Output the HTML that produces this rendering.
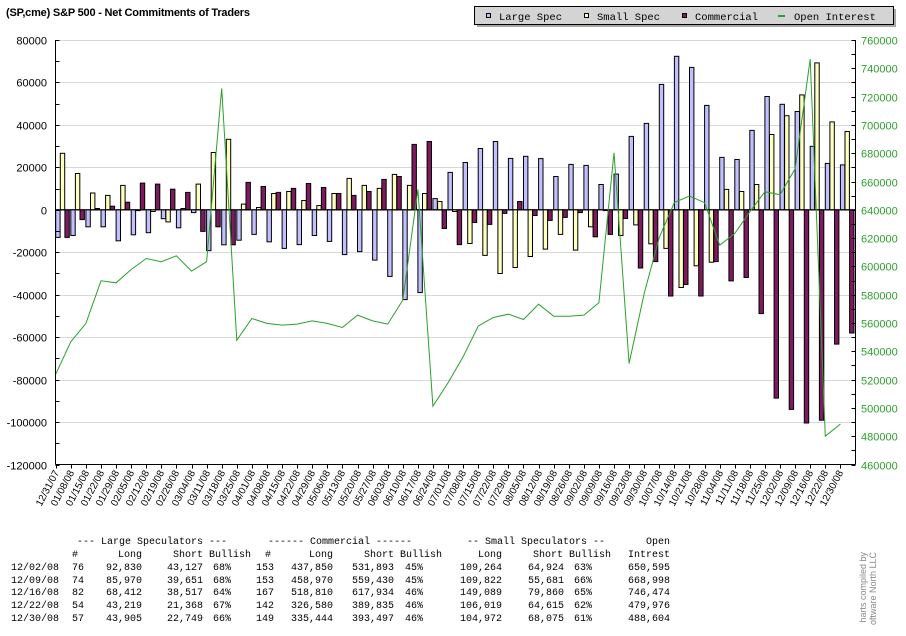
<!DOCTYPE html>
<html>
<head>
<meta charset="utf-8">
<style>
  html,body{margin:0;padding:0;background:#fff;}
  #wrap{position:relative;width:906px;height:636px;overflow:hidden;background:#fff;font-family:"Liberation Sans",sans-serif;}
  .tbl{position:absolute;font-family:"Liberation Mono",monospace;font-size:10px;line-height:12px;color:#000;white-space:pre;}
  .r{text-align:right;}
</style>
</head>
<body>
<div id="wrap">
<svg id="chart" width="906" height="520" style="position:absolute;left:0;top:0">
  <text x="6" y="16" font-family="Liberation Sans, sans-serif" font-weight="bold" font-size="11" textLength="244">(SP,cme) S&amp;P 500 - Net Commitments of Traders</text>
  <g>
    <rect x="477" y="9" width="419" height="18" fill="#a8a8a8"/>
    <rect x="474.5" y="6.5" width="419" height="18" fill="#d4d4d4" stroke="#000" stroke-width="1"/>
    <g>
      <rect x="486.5" y="13.5" width="4" height="4" fill="#c0c0ff" stroke="#000"/>
      <text x="499" y="20" font-family="Liberation Mono, monospace" font-size="10.5">Large Spec</text>
    </g>
    <g>
      <rect x="584.5" y="13.5" width="4" height="4" fill="#ffffc0" stroke="#000"/>
      <text x="597" y="20" font-family="Liberation Mono, monospace" font-size="10.5">Small Spec</text>
    </g>
    <g>
      <rect x="682.5" y="13.5" width="4" height="4" fill="#801a60" stroke="#000"/>
      <text x="695" y="20" font-family="Liberation Mono, monospace" font-size="10.5">Commercial</text>
    </g>
    <g>
      <rect x="778" y="15" width="7" height="2" fill="#2ca02c"/>
      <text x="794" y="20" font-family="Liberation Mono, monospace" font-size="10.5">Open Interest</text>
    </g>
  </g>
  <g id="grid"></g>
  <g id="bars"></g>
  <g id="oi"></g>
  <g id="axes"></g>
</svg>

<div>
<div class="tbl" style="left:77px;top:537px">--- Large Speculators ---</div>
<div class="tbl" style="left:268px;top:537px">------ Commercial ------</div>
<div class="tbl" style="left:467px;top:537px">-- Small Speculators --</div>
<div class="tbl" style="left:610px;top:537px;width:60px;text-align:right">Open</div>
<div class="tbl" style="left:72px;top:550px">#</div>
<div class="tbl r" style="left:100px;top:550px;width:42px">Long</div>
<div class="tbl" style="left:173px;top:550px">Short Bullish</div>
<div class="tbl" style="left:265px;top:550px">#</div>
<div class="tbl r" style="left:290px;top:550px;width:43px">Long</div>
<div class="tbl" style="left:364px;top:550px">Short Bullish</div>
<div class="tbl r" style="left:460px;top:550px;width:42px">Long</div>
<div class="tbl" style="left:533px;top:550px">Short Bullish</div>
<div class="tbl r" style="left:610px;top:550px;width:60px">Intrest</div>
</div>
<div id="rows"></div>
<div style="position:absolute;left:856px;top:552px;width:24px;height:75px;overflow:hidden">
  <div style="position:absolute;left:-28px;top:30px;width:80px;transform:rotate(-90deg);font-family:'Liberation Sans',sans-serif;font-size:9px;line-height:10px;color:#8a8a8a;white-space:nowrap;text-align:right;">harts compiled by<br>oftware North LLC</div>
</div>
</div>

<script>
const dates = ["12/31/07","01/08/08","01/15/08","01/22/08","01/29/08","02/05/08","02/12/08","02/19/08","02/26/08","03/04/08","03/11/08","03/18/08","03/25/08","04/01/08","04/08/08","04/15/08","04/22/08","04/29/08","05/06/08","05/13/08","05/20/08","05/27/08","06/03/08","06/10/08","06/17/08","06/24/08","07/01/08","07/08/08","07/15/08","07/22/08","07/29/08","08/05/08","08/12/08","08/19/08","08/26/08","09/02/08","09/09/08","09/16/08","09/23/08","09/30/08","10/07/08","10/14/08","10/21/08","10/28/08","11/04/08","11/11/08","11/18/08","11/25/08","12/02/08","12/09/08","12/16/08","12/22/08","12/30/08"];
const largeSpec = [-13000,-12100,-8000,-8000,-14600,-11800,-10800,-4200,-8500,-1300,-19200,-16500,-14300,-11600,-15100,-18200,-16400,-12100,-14900,-21100,-19700,-23700,-31400,-42300,-39000,5300,17600,22300,28900,32200,24200,25200,24100,15700,21400,20900,11900,16800,34600,40700,59100,72300,67100,49200,24700,23700,37400,53400,49703,46319,29895,21851,21156];
const smallSpec = [26600,17100,7900,6800,11500,-200,-800,-5700,600,12100,27000,33200,2700,1100,7700,8600,4400,2000,7700,14800,11500,10100,16700,11500,7700,3900,-800,-15900,-21500,-30000,-27200,-22000,-18500,-11600,-19000,-8000,-300,-12100,-7100,-16000,-18200,-36600,-26400,-24700,9600,8600,11900,35500,44340,54141,69229,41404,36897];
const commercial = [-13000,-4600,600,1700,3600,12600,12100,9700,8200,-10200,-8000,-16500,12900,11000,8200,10100,12400,10500,7700,6800,8600,14300,15700,30800,32200,-8800,-16400,-6000,-6900,-1700,3900,-2700,-5000,-3600,-1300,-12700,-11600,-4100,-27400,-24400,-40600,-35200,-40600,-24400,-33500,-31900,-48900,-88700,-94043,-100460,-99124,-63255,-58053];
const openInterest = [523800,546700,559700,589800,588400,597800,605600,603300,607500,596700,603300,725800,547900,563200,559700,558500,559200,561500,559700,556800,565600,561500,559200,576200,654400,501200,517700,536100,557800,563900,566200,562500,573300,564800,564800,565600,574300,680300,531400,580900,620500,645200,649700,645000,615000,623300,638600,652800,650595,668998,746474,479976,488604];
const leftTicks = [80000,60000,40000,20000,0,-20000,-40000,-60000,-80000,-100000,-120000];
const rightTicks = [760000,740000,720000,700000,680000,660000,640000,620000,600000,580000,560000,540000,520000,500000,480000,460000];

const tableDates = ["12/02/08","12/09/08","12/16/08","12/22/08","12/30/08"];
const lsCount = ["76","74","82","54","57"];
const lsLong = ["92,830","85,970","68,412","43,219","43,905"];
const lsShort = ["43,127","39,651","38,517","21,368","22,749"];
const lsBull = ["68%","68%","64%","67%","66%"];
const cmCount = ["153","153","167","142","149"];
const cmLong = ["437,850","458,970","518,810","326,580","335,444"];
const cmShort = ["531,893","559,430","617,934","389,835","393,497"];
const cmBull = ["45%","45%","46%","46%","46%"];
const ssLong = ["109,264","109,822","149,089","106,019","104,972"];
const ssShort = ["64,924","55,681","79,860","64,615","68,075"];
const ssBull = ["63%","66%","65%","62%","61%"];
const oiTable = ["650,595","668,998","746,474","479,976","488,604"];

const NS = "http://www.w3.org/2000/svg";
const X0 = 55.7, STEP = 15.09, TOP = 40, BOT = 464.5, LEFTX = 55.5, RIGHTX = 855.5;
function xAt(i){ return X0 + i*STEP; }
function yL(v){ return TOP + (80000 - v) * (BOT-TOP) / 200000; }
function yR(v){ return TOP + (760000 - v) * (BOT-TOP) / 300000; }
function mk(tag, attrs, parent){
  const e = document.createElementNS(NS, tag);
  for (const k in attrs) e.setAttribute(k, attrs[k]);
  parent.appendChild(e);
  return e;
}
const grid = document.getElementById('grid');
const bars = document.getElementById('bars');
const oi = document.getElementById('oi');
const axes = document.getElementById('axes');

leftTicks.forEach(v => {
  const y = Math.round(yL(v)) + 0.5;
  if (v > -120000) {
    const g = mk('line', {x1: LEFTX, x2: RIGHTX, y1: y, y2: y, stroke: '#d8d8d8', 'stroke-width': 1}, grid);
    
    
  }
  const t = mk('text', {x: 47, y: y + 4, 'text-anchor': 'end', 'font-size': 11, 'font-family': 'Liberation Sans, sans-serif', fill: '#000'}, axes);
  t.textContent = v;
  
  
});
for (let v = -120000; v <= 80000; v += 10000) {
  const y = Math.round(yL(v)) + 0.5;
  mk('line', {x1: LEFTX, x2: LEFTX + 4, y1: y, y2: y, stroke: '#000'}, axes);
}
rightTicks.forEach(v => {
  const y = Math.round(yR(v)) + 0.5;
  const t = mk('text', {x: 861, y: y + 4, 'font-size': 11, 'font-family': 'Liberation Sans, sans-serif', fill: '#2ca02c'}, axes);
  t.textContent = v;
  
  
});
for (let v = 460000; v <= 760000; v += 10000) {
  const y = Math.round(yR(v)) + 0.5;
  mk('line', {x1: RIGHTX - 4, x2: RIGHTX, y1: y, y2: y, stroke: '#000'}, axes);
}

const series = [[largeSpec, '#c0c0ff', 0, 'bar-large-spec'], [smallSpec, '#ffffc0', 4.6, 'bar-small-spec'], [commercial, '#801a60', 9.2, 'bar-commercial']];
const y0 = yL(0);
dates.forEach((d, i) => {
  series.forEach(s => {
    const v = s[0][i];
    const x = xAt(i) + s[2];
    const yv = yL(v);
    const r = mk('rect', {x: x.toFixed(1), y: Math.min(yv, y0).toFixed(1), width: 4.4, height: Math.max(Math.abs(yv - y0), 0.8).toFixed(1), fill: s[1], stroke: '#000', 'stroke-width': 1}, bars);
    
    
  });
});
const zl = mk('line', {x1: LEFTX, x2: RIGHTX, y1: y0, y2: y0, stroke: '#000', 'stroke-width': 1}, bars);



const pts = openInterest.map((v, i) => xAt(i).toFixed(1) + ',' + yR(v).toFixed(1)).join(' ');
const pl = mk('polyline', {points: pts, fill: 'none', stroke: '#2ca02c', 'stroke-width': 1}, oi);



mk('line', {x1: LEFTX, x2: LEFTX, y1: TOP, y2: BOT, stroke: '#000'}, axes);
mk('line', {x1: RIGHTX, x2: RIGHTX, y1: TOP, y2: BOT, stroke: '#000'}, axes);
mk('line', {x1: LEFTX, x2: RIGHTX, y1: BOT, y2: BOT, stroke: '#000'}, axes);
dates.forEach((d, i) => {
  const x = Math.round(xAt(i)) + 0.5;
  mk('line', {x1: x, x2: x, y1: BOT, y2: BOT + 4, stroke: '#000'}, axes);
  const t = mk('text', {x: 0, y: 0, 'text-anchor': 'end', 'font-size': 10, 'font-family': 'Liberation Sans, sans-serif', fill: '#000', transform: 'translate(' + (x + 3) + ',' + (BOT + 8) + ') rotate(-62)'}, axes);
  t.textContent = d;
  
  
});

const rows = document.getElementById('rows');
const cols = [[tableDates, 11, 'l'], [lsCount, 72, 'l'], [lsLong, 142, 'r'], [lsShort, 203, 'r'], [lsBull, 213, 'l'], [cmCount, 274, 'r'], [cmLong, 333, 'r'], [cmShort, 394, 'r'], [cmBull, 405, 'l'], [ssLong, 502, 'r'], [ssShort, 564, 'r'], [ssBull, 574, 'l'], [oiTable, 670, 'r']];
for (let r = 0; r < 5; r++) {
  cols.forEach(c => {
    const el = document.createElement('div');
    el.className = 'tbl';
    el.textContent = c[0][r];
    el.style.top = (563 + r * 12.7) + 'px';
    if (c[2] === 'r') { el.style.left = (c[1] - 60) + 'px'; el.style.width = '60px'; el.style.textAlign = 'right'; }
    else el.style.left = c[1] + 'px';
    
    
    rows.appendChild(el);
  });
}
</script>
</body>
</html>
